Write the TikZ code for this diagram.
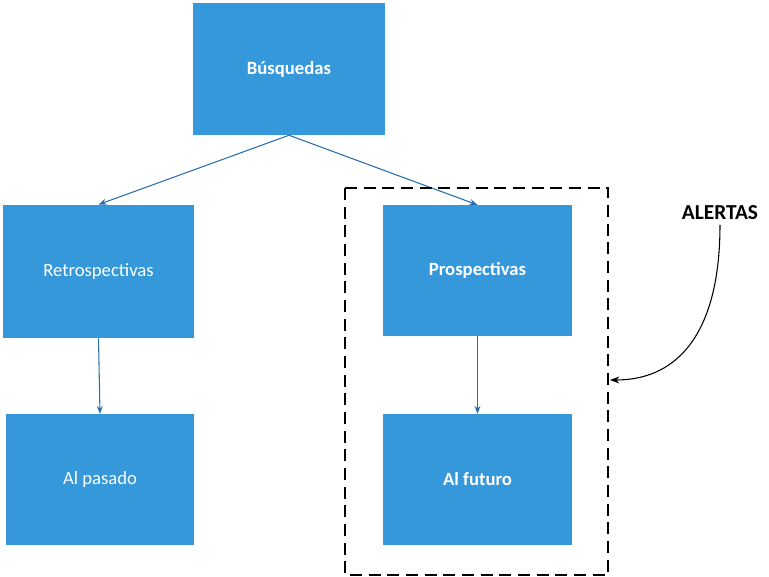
\documentclass[tikz,border=0pt]{standalone}
\usepackage{fontspec}
\setmainfont{Carlito}
\usetikzlibrary{arrows.meta}
\definecolor{boxblue}{RGB}{52,152,219}
\definecolor{linkblue}{RGB}{40,110,170}
\tikzset{
  box/.style={draw=none, fill=boxblue, text=white, font=\fontsize{14}{16}\selectfont},
  link/.style={linkblue, thick, -{Stealth[length=6pt]}}
}
\begin{document}
\begin{tikzpicture}[x=0.75pt,y=-0.75pt]
  \useasboundingbox (0,0) rectangle (769,577);

  % Boxes
  \node[box, minimum width=144pt, minimum height=99pt, font=\fontsize{14}{16}\selectfont\bfseries] (busq) at (289,69) {Búsquedas};
  \node[box, minimum width=143pt, minimum height=100pt] (retro) at (98.5,271.5) {Retrospectivas};
  \node[box, minimum width=142pt, minimum height=98pt, font=\fontsize{14}{16}\selectfont\bfseries] (pros) at (477.5,270.5) {Prospectivas};
  \node[box, minimum width=141pt, minimum height=98pt] (pasado) at (100,479.5) {Al pasado};
  \node[box, minimum width=142pt, minimum height=98pt, font=\fontsize{14}{16}\selectfont\bfseries] (futuro) at (477.5,479.5) {Al futuro};

  % Links
  \draw[link] (busq.south) -- (retro.north);
  \draw[link] (busq.south) -- (pros.north);
  \draw[link] (retro.south) -- (pasado.north);
  \draw[link] (pros.south) -- (futuro.north);

  % Alert group
  \draw[thick, dashed, dash pattern=on 9pt off 5pt] (345,188) rectangle (608,575);
  \coordinate (group) at (610,380);
  \node[font=\fontsize{16}{18}\selectfont\bfseries] (alertas) at (720,213) {ALERTAS};
  \draw[thick, -{Stealth[length=7pt]}] (alertas.south) .. controls (720,330) and (680,380) .. (group);
\end{tikzpicture}
\end{document}
